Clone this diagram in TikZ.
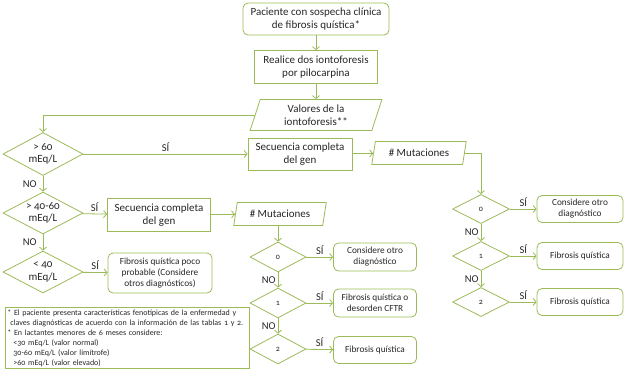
\documentclass[tikz,border=0pt]{standalone}
\usepackage{fontspec}
\setmainfont{Carlito}[Numbers=OldStyle]
\usetikzlibrary{shapes.geometric, arrows.meta}
\definecolor{boxgreen}{HTML}{9BBB59}
\definecolor{boxtext}{HTML}{262626}

\begin{document}
\begin{tikzpicture}[x=1pt, y=-1pt,
	proc/.style={draw=boxgreen, line width=0.8pt, text=boxtext, font=\fontsize{11}{12.5}\selectfont, align=center, inner sep=1pt},
	term/.style={proc, rounded corners=5pt},
	io/.style={proc, trapezium, trapezium left angle=75, trapezium right angle=105, trapezium stretches=true},
	dec/.style={draw=boxgreen, line width=0.8pt, diamond, inner sep=0pt},
	dectext/.style={text=boxtext, font=\fontsize{11}{12.5}\selectfont, align=center, inner sep=0pt},
	numtext/.style={text=boxtext, font=\fontsize{8}{9}\selectfont, inner sep=0pt},
	res/.style={proc, rounded corners=5pt, font=\fontsize{9.3}{11}\selectfont},
	arrow/.style={-{Straight Barb[length=3pt, width=7pt]}, line width=0.8pt, color=boxgreen},
	lbl/.style={text=boxtext, font=\fontsize{10.5}{12}\selectfont, inner sep=2pt}
]
\useasboundingbox (0,0) rectangle (628,375);

% tronco principal
\node[term, minimum width=146, minimum height=32] (start) at (316,19) {Paciente con sospecha clínica\\de fibrosis quística*};
\node[proc, minimum width=123, minimum height=33] (ionto) at (316,67) {Realice dos iontoforesis\\por pilocarpina};
\node[io, minimum width=132, minimum height=31] (valores) at (316,115) {Valores de la\\iontoforesis**};

% decisiones por valor
\node[dec, minimum width=80, minimum height=43, label={[dectext]center:{> 60\\mEq/L}}] (d60) at (43,154) {};
\node[dec, minimum width=80, minimum height=42, label={[dectext]center:{> 40-60\\mEq/L}}] (d4060) at (43,213) {};
\node[dec, minimum width=80, minimum height=42, label={[dectext]center:{< 40\\mEq/L}}] (d40) at (43,272) {};

\node[proc, minimum width=104, minimum height=32] (seqA) at (300,154) {Secuencia completa\\del gen};
\node[io, minimum width=95, minimum height=23] (mutA) at (419,153) {\# Mutaciones};
\node[proc, minimum width=103, minimum height=33] (seqB) at (159,215) {Secuencia completa\\del gen};
\node[io, minimum width=93, minimum height=23] (mutB) at (280,214) {\# Mutaciones};
\node[res, minimum width=104, minimum height=40] (poco) at (160,273) {Fibrosis quística poco\\probable (Considere\\otros diagnósticos)};

% columna de mutaciones (derecha)
\foreach \n/\y in {0/209, 1/256, 2/302} {
	\node[dec, minimum width=57, minimum height=29, label={[numtext]center:\n}] (mA\n) at (481,\y) {};
}
\node[res, minimum width=86, minimum height=27] (rA0) at (580,209) {Considere otro\\diagnóstico};
\node[res, minimum width=86, minimum height=27] (rA1) at (580,256) {Fibrosis quística};
\node[res, minimum width=86, minimum height=27] (rA2) at (580,302) {Fibrosis quística};

% columna de mutaciones (centro)
\foreach \n/\y in {0/257, 1/303, 2/349} {
	\node[dec, minimum width=56, minimum height=30, label={[numtext]center:\n}] (mB\n) at (278,\y) {};
}
\node[res, minimum width=83, minimum height=28] (rB0) at (375,257) {Considere otro\\diagnóstico};
\node[res, minimum width=83, minimum height=28] (rB1) at (375,303) {Fibrosis quística o\\desorden CFTR};
\node[res, minimum width=83, minimum height=27] (rB2) at (375,350) {Fibrosis quística};

% notas
\node[draw=boxgreen, line width=0.8pt, text=boxtext, font=\fontsize{8}{10}\selectfont, align=left, inner sep=2pt, anchor=north west, text width=240] (notas) at (5,307) {* El paciente presenta características fenotípicas de la enfermedad y\\
\hspace*{3pt}claves diagnósticas de acuerdo con la información de las tablas 1 y 2.\\
** En lactantes menores de 6 meses considere:\\
\hspace*{6pt}<30 mEq/L (valor normal)\\
\hspace*{6pt}30-60 mEq/L (valor limítrofe)\\
\hspace*{6pt}>60 mEq/L (valor elevado)};

% conectores
\draw[arrow] (start) -- (ionto);
\draw[arrow] (ionto) -- (valores);
\draw[arrow] (valores.west) -| (d60.north);
\draw[arrow] (d60) -- node[lbl, above] {SÍ} (seqA);
\draw[arrow] (seqA) -- (mutA);
\draw[arrow] (mutA.east) -| (mA0.north);
\draw[arrow] (d60) -- node[lbl, left, xshift=-4pt] {NO} (d4060);
\draw[arrow] (d4060) -- node[lbl, above] {SÍ} (seqB);
\draw[arrow] (seqB) -- (mutB);
\draw[arrow] (mutB.south -| mB0.north) -- (mB0.north);
\draw[arrow] (d4060) -- node[lbl, left, xshift=-4pt] {NO} (d40);
\draw[arrow] (d40) -- node[lbl, above] {SÍ} (poco);
\foreach \c in {A, B} {
	\draw[arrow] (m\c0) -- node[lbl, above] {SÍ} (r\c0);
	\draw[arrow] (m\c1) -- node[lbl, above] {SÍ} (r\c1);
	\draw[arrow] (m\c2) -- node[lbl, above] {SÍ} (r\c2);
	\draw[arrow] (m\c0) -- node[lbl, left] {NO} (m\c1);
	\draw[arrow] (m\c1) -- node[lbl, left] {NO} (m\c2);
}
\end{tikzpicture}
\end{document}
